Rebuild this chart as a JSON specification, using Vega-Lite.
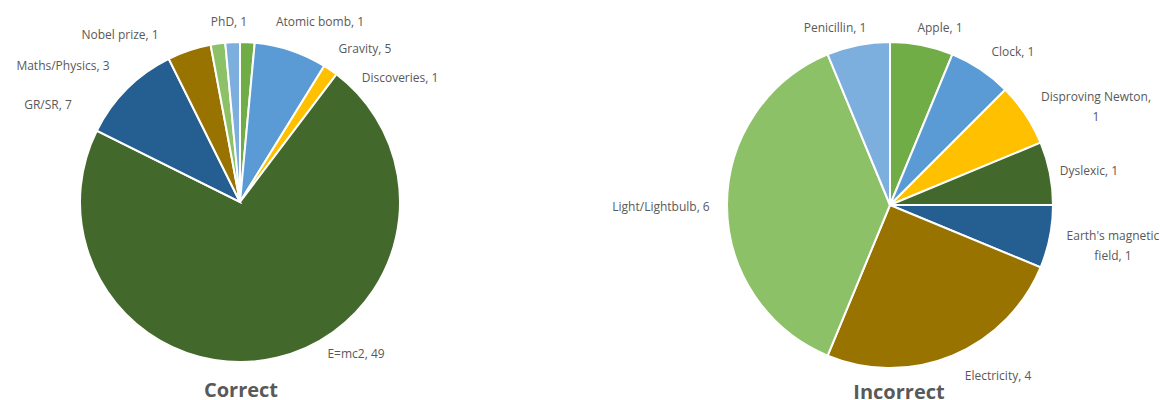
{
  "$schema": "https://vega.github.io/schema/vega-lite/v6.json",
  "padding": 0,
  "background": "white",
  "bounds": "flush",
  "config": {
    "view": {"stroke": null},
    "title": {"font": "Open Sans", "fontSize": 20, "fontWeight": "bold", "color": "#595959"},
    "text": {"font": "Open Sans", "fontSize": 12, "fill": "#595959", "align": "center", "baseline": "middle", "lineHeight": 20}
  },
  "datasets": {
    "correct": [
      {"label": "Atomic bomb", "n": 1},
      {"label": "Gravity", "n": 5},
      {"label": "Discoveries", "n": 1},
      {"label": "E=mc2", "n": 49},
      {"label": "GR/SR", "n": 7},
      {"label": "Maths/Physics", "n": 3},
      {"label": "Nobel prize", "n": 1},
      {"label": "PhD", "n": 1}
    ],
    "incorrect": [
      {"label": "Apple", "n": 1},
      {"label": "Clock", "n": 1},
      {"label": "Disproving Newton", "n": 1},
      {"label": "Dyslexic", "n": 1},
      {"label": "Earth's magnetic field", "n": 1},
      {"label": "Electricity", "n": 4},
      {"label": "Light/Lightbulb", "n": 6},
      {"label": "Penicillin", "n": 1}
    ]
  },
  "spacing": 160,
  "resolve": {"scale": {"color": "independent", "theta": "independent"}},
  "hconcat": [
    {
      "width": 480,
      "height": 404,
      "data": {"name": "correct"},
      "transform": [
        {"window": [{"op": "row_number", "as": "i"}]},
        {"calculate": "datum.label + ', ' + datum.n", "as": "txt"}
      ],
      "title": {"text": "Correct", "orient": "bottom", "offset": -23, "anchor": "middle", "dx": 1},
      "encoding": {
        "theta": {"field": "n", "type": "quantitative", "stack": true},
        "order": {"field": "i", "type": "quantitative"},
        "detail": {"field": "label", "type": "nominal"}
      },
      "layer": [
        {
          "mark": {"type": "arc", "outerRadius": 160, "stroke": "white", "strokeWidth": 2},
          "encoding": {
            "color": {
              "field": "label", "type": "nominal", "legend": null,
              "scale": {
                "domain": ["Atomic bomb", "Gravity", "Discoveries", "E=mc2", "GR/SR", "Maths/Physics", "Nobel prize", "PhD"],
                "range": ["#70AD47", "#5B9BD5", "#FFC000", "#43682B", "#255E91", "#997300", "#8CC168", "#7CAFDD"]
              }
            }
          }
        },
        {"mark": {"type": "text", "radius": 160, "dx": 72.6, "dy": -20.2}, "encoding": {"text": {"condition": {"test": "datum.label === 'Atomic bomb'", "field": "txt"}, "value": ""}}},
        {"mark": {"type": "text", "radius": 160, "dx": 74.1, "dy": -1.3}, "encoding": {"text": {"condition": {"test": "datum.label === 'Gravity'", "field": "txt"}, "value": ""}}},
        {"mark": {"type": "text", "radius": 160, "dx": 69.6, "dy": 8}, "encoding": {"text": {"condition": {"test": "datum.label === 'Discoveries'", "field": "txt"}, "value": ""}}},
        {"mark": {"type": "text", "radius": 160, "dx": 79.4, "dy": -3.7}, "encoding": {"text": {"condition": {"test": "datum.label === 'E=mc2'", "field": "txt"}, "value": ""}}},
        {"mark": {"type": "text", "radius": 160, "dx": -78.9, "dy": 16.1}, "encoding": {"text": {"condition": {"test": "datum.label === 'GR/SR'", "field": "txt"}, "value": ""}}},
        {"mark": {"type": "text", "radius": 160, "dx": -126.2, "dy": 15.7}, "encoding": {"text": {"condition": {"test": "datum.label === 'Maths/Physics'", "field": "txt"}, "value": ""}}},
        {"mark": {"type": "text", "radius": 160, "dx": -97.9, "dy": -8.5}, "encoding": {"text": {"condition": {"test": "datum.label === 'Nobel prize'", "field": "txt"}, "value": ""}}},
        {"mark": {"type": "text", "radius": 160, "dx": -3.6, "dy": -20.2}, "encoding": {"text": {"condition": {"test": "datum.label === 'PhD'", "field": "txt"}, "value": ""}}}
      ]
    },
    {
      "width": 500,
      "height": 410,
      "data": {"name": "incorrect"},
      "transform": [
        {"window": [{"op": "row_number", "as": "i"}]},
        {"calculate": "datum.label + ', ' + datum.n", "as": "txt"},
        {"calculate": "datum.label === 'Disproving Newton' ? [datum.label + ',', '' + datum.n] : (datum.label === \"Earth's magnetic field\" ? [slice(datum.label, 0, 16), slice(datum.label, 17) + ', ' + datum.n] : datum.txt)", "as": "txt2"}
      ],
      "title": {"text": "Incorrect", "orient": "bottom", "offset": -27, "anchor": "middle", "dx": 9},
      "encoding": {
        "theta": {"field": "n", "type": "quantitative", "stack": true},
        "order": {"field": "i", "type": "quantitative"},
        "detail": {"field": "label", "type": "nominal"}
      },
      "layer": [
        {
          "mark": {"type": "arc", "outerRadius": 163, "stroke": "white", "strokeWidth": 2},
          "encoding": {
            "color": {
              "field": "label", "type": "nominal", "legend": null,
              "scale": {
                "domain": ["Apple", "Clock", "Disproving Newton", "Dyslexic", "Earth's magnetic field", "Electricity", "Light/Lightbulb", "Penicillin"],
                "range": ["#70AD47", "#5B9BD5", "#FFC000", "#43682B", "#255E91", "#997300", "#8CC168", "#7CAFDD"]
              }
            }
          }
        },
        {"mark": {"type": "text", "radius": 163, "dx": 18.2, "dy": -17.1}, "encoding": {"text": {"condition": {"test": "datum.label === 'Apple'", "field": "txt"}, "value": ""}}},
        {"mark": {"type": "text", "radius": 163, "dx": 32.4, "dy": -17.5}, "encoding": {"text": {"condition": {"test": "datum.label === 'Clock'", "field": "txt"}, "value": ""}}},
        {"mark": {"type": "text", "radius": 163, "dx": 70.5, "dy": -17.4}, "encoding": {"text": {"condition": {"test": "datum.label === 'Disproving Newton'", "field": "txt2"}, "value": ""}}},
        {"mark": {"type": "text", "radius": 163, "dx": 39.1, "dy": -2.2}, "encoding": {"text": {"condition": {"test": "datum.label === 'Dyslexic'", "field": "txt"}, "value": ""}}},
        {"mark": {"type": "text", "radius": 163, "dx": 63.1, "dy": -0.8}, "encoding": {"text": {"condition": {"test": "datum.label === \"Earth's magnetic field\"", "field": "txt2"}, "value": ""}}},
        {"mark": {"type": "text", "radius": 163, "dx": 45.6, "dy": 20.4}, "encoding": {"text": {"condition": {"test": "datum.label === 'Electricity'", "field": "txt"}, "value": ""}}},
        {"mark": {"type": "text", "radius": 163, "dx": -66, "dy": 2}, "encoding": {"text": {"condition": {"test": "datum.label === 'Light/Lightbulb'", "field": "txt"}, "value": ""}}},
        {"mark": {"type": "text", "radius": 163, "dx": -23.2, "dy": -17.1}, "encoding": {"text": {"condition": {"test": "datum.label === 'Penicillin'", "field": "txt"}, "value": ""}}}
      ]
    }
  ]
}
